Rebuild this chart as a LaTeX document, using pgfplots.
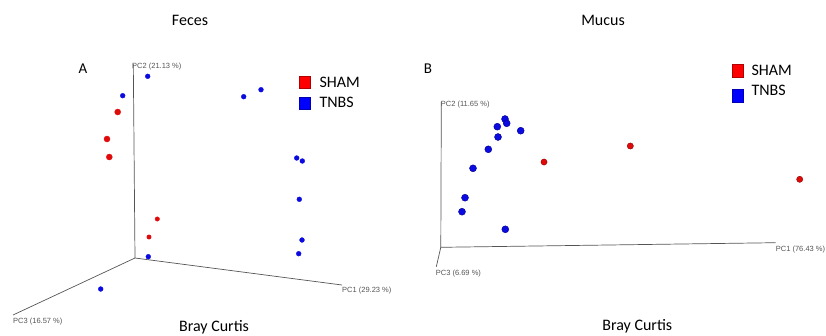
\documentclass[border=0pt]{standalone}
\usepackage{fontspec}
\setmainfont{Carlito}
\newfontfamily\arial{Liberation Sans}
\usepackage{pgfplots}
\pgfplotsset{compat=1.18}
\definecolor{ptred}{RGB}{225,10,10}
\definecolor{ptblue}{RGB}{10,10,225}
\definecolor{axgray}{RGB}{85,85,85}
\begin{document}
\begin{tikzpicture}
\begin{axis}[scale only axis, width=826pt, height=335pt,
  xmin=0, xmax=826, ymin=0, ymax=335, y dir=reverse,
  hide axis, clip=false]
% ---------- Panel A (Feces) ----------
\addplot[axgray, line width=0.7pt] coordinates {(133.3,64) (135,258) (342,285)};
\addplot[axgray, line width=0.7pt] coordinates {(135,258) (13,315)};
% blue points
\addplot[only marks, mark=*, mark size=2.4pt, ptblue] coordinates {
 (147.7,76.3) (122.7,95.7) (243.7,96.7) (261,89.7) (296.7,158) (302.3,161)
 (299.3,199.3) (302,240) (298.7,253.7) (148.3,256.7) (100.7,289)};
% red points (large)
\addplot[only marks, mark=*, mark size=3.0pt, ptred] coordinates {
 (117.7,112) (107,139) (109.3,157)};
% red points (small)
\addplot[only marks, mark=*, mark size=2.2pt, ptred] coordinates {
 (157.3,219) (149,237)};
% legend squares
\addplot[only marks, mark=square*, mark size=5.6pt, mark options={yscale=1.12, draw=red!70!black, fill=red, line width=0.3pt}] coordinates {(305,82)};
\addplot[only marks, mark=square*, mark size=5.6pt, mark options={yscale=1.12, draw=blue!70!black, fill=blue, line width=0.3pt}] coordinates {(305,103)};
\node[font=\fontsize{16}{18}\selectfont] at (axis cs:190,20) {Feces};
\node[font=\fontsize{15}{18}\selectfont] at (axis cs:83,69) {A};
\node[font=\fontsize{16}{18}\selectfont, anchor=west] at (axis cs:316,82) {SHAM};
\node[font=\fontsize{16}{18}\selectfont, anchor=west] at (axis cs:316,102) {TNBS};
\node[font=\fontsize{16}{18}\selectfont] at (axis cs:214,327) {Bray Curtis};
\node[font=\arial\fontsize{7.5}{8}\selectfont, text=axgray, anchor=west, inner sep=0pt] at (axis cs:132,67) {PC2 (21.13 \%)};
\node[font=\arial\fontsize{7.5}{8}\selectfont, text=axgray, anchor=west, inner sep=0pt] at (axis cs:342,291) {PC1 (29.23 \%)};
\node[font=\arial\fontsize{7.5}{8}\selectfont, text=axgray, anchor=west, inner sep=0pt] at (axis cs:13,322) {PC3 (16.57 \%)};
% ---------- Panel B (Mucus) ----------
\addplot[axgray, line width=0.7pt] coordinates {(441.3,101.5) (440.8,247.3) (775.7,242.7)};
\addplot[axgray, line width=0.7pt] coordinates {(440.8,247.3) (436.3,266.7)};
\addplot[only marks, mark=*, mark size=3.5pt, mark options={fill=ptblue, draw=blue!55!black, line width=0.4pt}] coordinates {
 (505,119) (506.7,123.3) (497.3,126.7) (520.7,130.7) (498,137) (488.3,149.3)
 (473,168.3) (465,197.7) (462,211.7) (505.3,229.3)};
\addplot[only marks, mark=*, mark size=3.1pt, mark options={fill=ptred, draw=red!55!black, line width=0.4pt}] coordinates {
 (544,162) (630.3,146) (799.7,179.3)};
\addplot[only marks, mark=square*, mark size=5.6pt, mark options={yscale=1.12, draw=red!70!black, fill=red, line width=0.3pt}] coordinates {(737.3,70.7)};
\addplot[only marks, mark=square*, mark size=5.6pt, mark options={yscale=1.12, draw=blue!70!black, fill=blue, line width=0.3pt}] coordinates {(737.3,95.7)};
\node[font=\fontsize{16}{18}\selectfont] at (axis cs:603,20) {Mucus};
\node[font=\fontsize{15}{18}\selectfont] at (axis cs:428,69) {B};
\node[font=\fontsize{16}{18}\selectfont, anchor=west] at (axis cs:748,70) {SHAM};
\node[font=\fontsize{16}{18}\selectfont, anchor=west] at (axis cs:748,90) {TNBS};
\node[font=\fontsize{16}{18}\selectfont] at (axis cs:637.3,326.7) {Bray Curtis};
\node[font=\arial\fontsize{7.5}{8}\selectfont, text=axgray, anchor=west, inner sep=0pt] at (axis cs:440.7,105) {PC2 (11.65 \%)};
\node[font=\arial\fontsize{7.5}{8}\selectfont, text=axgray, anchor=west, inner sep=0pt] at (axis cs:775.7,249.3) {PC1 (76.43 \%)};
\node[font=\arial\fontsize{7.5}{8}\selectfont, text=axgray, anchor=west, inner sep=0pt] at (axis cs:435.7,274) {PC3 (6.69 \%)};
\end{axis}
\pgfresetboundingbox
\path (current axis.south west) rectangle (current axis.north east);
\end{tikzpicture}
\end{document}
